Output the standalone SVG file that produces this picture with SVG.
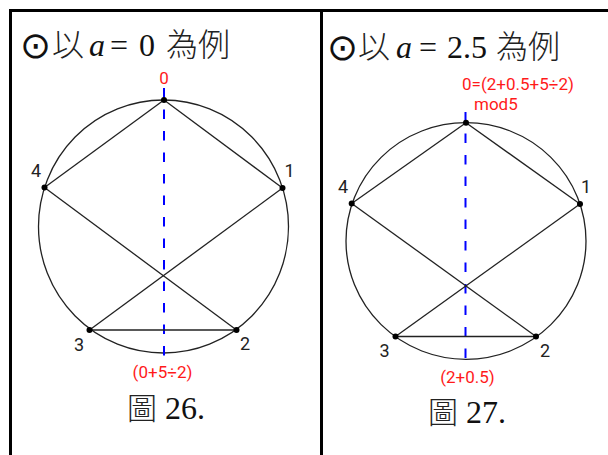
<svg xmlns="http://www.w3.org/2000/svg" width="608" height="455" viewBox="0 0 608 455">
<style>
.frame{stroke:#000;stroke-width:3;fill:none}
.circ{fill:none;stroke:#222;stroke-width:1.3}
.edge{stroke:#222;stroke-width:1.3;fill:none}
.axis{stroke:#0000ff;stroke-width:2;stroke-dasharray:9.5 12;fill:none}
.dot{fill:#000}
.num{font-family:Roboto,"Liberation Sans",sans-serif;font-size:18px;fill:#222;text-anchor:middle}
.red{font-family:Roboto,"Liberation Sans",sans-serif;font-size:17px;fill:#ff1a1a}
.cjk{font-family:"Noto Sans CJK TC","Noto Sans CJK SC",sans-serif;font-size:30px;font-weight:300;fill:#222}
.big{font-size:32px}
.ser{font-family:"Liberation Serif",serif;font-size:32px;fill:#111}
.it{font-style:italic}
.sym{font-family:"DejaVu Sans",sans-serif;font-size:37px;fill:#111}
</style>
<rect width="608" height="455" fill="#fff"/>
<g id="frame">
<line class="frame" x1="9" y1="10.5" x2="608" y2="10.5"/>
<line class="frame" x1="10.5" y1="9" x2="10.5" y2="455"/>
<line class="frame" x1="321.5" y1="9" x2="321.5" y2="455"/>
</g>
<g id="title-left">
<text class="sym" x="20" y="58">⊙</text>
<text class="cjk big" x="52" y="56">以</text>
<text class="ser it" x="89" y="56">a</text>
<text class="ser" x="110" y="56">=</text>
<text class="ser" x="139" y="56">0</text>
<text class="cjk big" x="166" y="56">為例</text>
</g>
<g id="title-right">
<text class="sym" x="327" y="60">⊙</text>
<text class="cjk big" x="358" y="58">以</text>
<text class="ser it" x="396" y="58">a</text>
<text class="ser" x="419" y="58">=</text>
<text class="ser" x="447" y="58">2.5</text>
<text class="cjk big" x="496" y="58">為例</text>
</g>
<g id="figure-left">
<ellipse class="circ" cx="163.5" cy="226.5" rx="125" ry="126.5"/>
<line class="axis" x1="164" y1="88" x2="164" y2="360"/>
<text class="red" x="164" y="84" text-anchor="middle">0</text>
<text class="red" x="162.5" y="378" text-anchor="middle">(0+5÷2)</text>
</g>
<g id="connectors-left">
<line class="edge" x1="164" y1="100" x2="44.5" y2="187.5"/>
<line class="edge" x1="164" y1="100" x2="282.5" y2="188"/>
<line class="edge" x1="44.5" y1="187.5" x2="236.5" y2="330"/>
<line class="edge" x1="282.5" y1="188" x2="89.5" y2="330"/>
<line class="edge" x1="89.5" y1="330" x2="236.5" y2="330"/>
</g>
<g id="node-L0"><circle class="dot" cx="164" cy="100" r="3"/></g>
<g id="node-L1"><circle class="dot" cx="282.5" cy="188" r="3"/><text class="num" x="289.5" y="177">1</text></g>
<g id="node-L2"><circle class="dot" cx="236.5" cy="330" r="3"/><text class="num" x="245" y="350">2</text></g>
<g id="node-L3"><circle class="dot" cx="89.5" cy="330" r="3"/><text class="num" x="79" y="350.5">3</text></g>
<g id="node-L4"><circle class="dot" cx="44.5" cy="187.5" r="3"/><text class="num" x="36" y="176.5">4</text></g>
<g id="caption-left">
<text class="cjk" x="127" y="419">圖</text>
<text class="ser" x="165" y="419">26.</text>
</g>
<g id="figure-right">
<ellipse class="circ" cx="466" cy="241" rx="120" ry="118.3"/>
<line class="axis" x1="465.5" y1="112" x2="465.5" y2="365"/>
<text class="red" x="462" y="89.5">0=(2+0.5+5÷2)</text>
<text class="red" x="474" y="110">mod5</text>
<text class="red" x="467.5" y="383" text-anchor="middle">(2+0.5)</text>
</g>
<g id="connectors-right">
<line class="edge" x1="466" y1="122.7" x2="351.7" y2="203.5"/>
<line class="edge" x1="466" y1="122.7" x2="580" y2="204"/>
<line class="edge" x1="351.7" y1="203.5" x2="536" y2="336.5"/>
<line class="edge" x1="580" y1="204" x2="395.5" y2="336.5"/>
<line class="edge" x1="395.5" y1="336.5" x2="536" y2="336.5"/>
</g>
<g id="node-R0"><circle class="dot" cx="466" cy="122.7" r="3"/></g>
<g id="node-R1"><circle class="dot" cx="580" cy="204" r="3"/><text class="num" x="586" y="193">1</text></g>
<g id="node-R2"><circle class="dot" cx="536" cy="336.5" r="3"/><text class="num" x="545" y="357">2</text></g>
<g id="node-R3"><circle class="dot" cx="395.5" cy="336.5" r="3"/><text class="num" x="384.5" y="356.5">3</text></g>
<g id="node-R4"><circle class="dot" cx="351.7" cy="203.5" r="3"/><text class="num" x="343" y="193">4</text></g>
<g id="caption-right">
<text class="cjk" x="428" y="423">圖</text>
<text class="ser" x="466" y="423">27.</text>
</g>
</svg>
